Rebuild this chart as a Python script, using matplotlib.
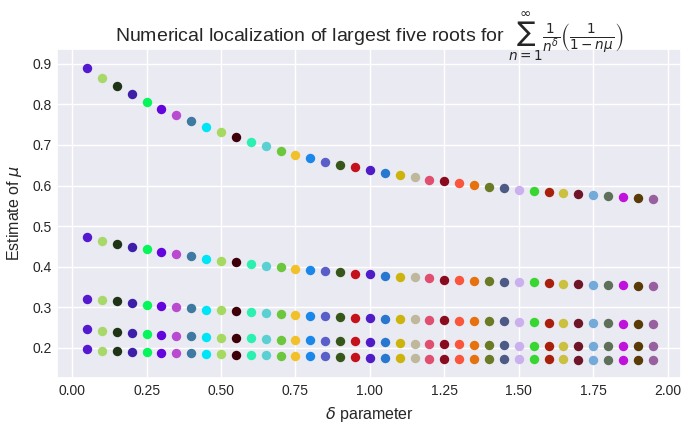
import matplotlib
matplotlib.use("Agg")
import matplotlib.pyplot as plt
import seaborn as sns
import numpy as np

sns.set_theme(style="darkgrid")
plt.rcParams['font.family'] = ['Liberation Sans', 'DejaVu Sans']
plt.rcParams['mathtext.fontset'] = 'dejavusans'

delta = [0.05, 0.10, 0.15, 0.20, 0.25, 0.30, 0.35, 0.40, 0.45, 0.50,
         0.55, 0.60, 0.65, 0.70, 0.75, 0.80, 0.85, 0.90, 0.95, 1.00,
         1.05, 1.10, 1.15, 1.20, 1.25, 1.30, 1.35, 1.40, 1.45, 1.50,
         1.55, 1.60, 1.65, 1.70, 1.75, 1.80, 1.85, 1.90, 1.95]

root1 = [0.891, 0.866, 0.846, 0.826, 0.807, 0.790, 0.774, 0.759, 0.744, 0.731,
         0.719, 0.707, 0.697, 0.686, 0.676, 0.668, 0.659, 0.651, 0.645, 0.638,
         0.631, 0.625, 0.621, 0.614, 0.610, 0.606, 0.601, 0.596, 0.593, 0.590,
         0.586, 0.583, 0.582, 0.579, 0.576, 0.574, 0.572, 0.569, 0.567]

root2 = [0.474, 0.464, 0.457, 0.449, 0.444, 0.437, 0.431, 0.426, 0.420, 0.415,
         0.411, 0.406, 0.402, 0.398, 0.395, 0.392, 0.388, 0.386, 0.383, 0.381,
         0.378, 0.375, 0.374, 0.372, 0.368, 0.367, 0.365, 0.364, 0.363, 0.361,
         0.361, 0.359, 0.358, 0.356, 0.355, 0.354, 0.354, 0.352, 0.352]

root3 = [0.321, 0.318, 0.315, 0.310, 0.306, 0.303, 0.300, 0.297, 0.294, 0.292,
         0.290, 0.287, 0.285, 0.282, 0.280, 0.279, 0.278, 0.276, 0.274, 0.274,
         0.272, 0.270, 0.270, 0.268, 0.268, 0.266, 0.266, 0.265, 0.265, 0.264,
         0.263, 0.262, 0.261, 0.261, 0.260, 0.260, 0.259, 0.259, 0.258]

root4 = [0.2456, 0.2424, 0.2399, 0.2374, 0.2342, 0.2325, 0.2300, 0.2283, 0.2268, 0.2251,
         0.2244, 0.2227, 0.2219, 0.2202, 0.2194, 0.2185, 0.2177, 0.2170, 0.2153, 0.2145,
         0.2130, 0.2110, 0.2100, 0.2090, 0.2090, 0.2080, 0.2070, 0.2060, 0.2060, 0.2054,
         0.2054, 0.2054, 0.2050, 0.2050, 0.2045, 0.2045, 0.2045, 0.2045, 0.2045]

root5 = [0.196, 0.193, 0.192, 0.190, 0.190, 0.188, 0.187, 0.186, 0.185, 0.184,
         0.182, 0.181, 0.181, 0.180, 0.180, 0.179, 0.179, 0.178, 0.177, 0.175,
         0.175, 0.175, 0.174, 0.173, 0.173, 0.173, 0.173, 0.173, 0.172, 0.172,
         0.171, 0.171, 0.171, 0.170, 0.170, 0.170, 0.170, 0.169, 0.169]

colors = ['#5519cf', '#a8d86a', '#1f3317', '#3e1fa8', '#06f55a', '#6305dc', '#b94bd0',
          '#3d79a0', '#00e5f5', '#a6d960', '#3d0008', '#2cf0b0', '#5bd0d3', '#6cc73c',
          '#f2c12a', '#1a88ea', '#5a5ec8', '#37561a', '#c4111c', '#4f1cc8', '#2878d0',
          '#cdb40c', '#c0b89c', '#e04e70', '#8a0a1e', '#f9563c', '#e6720f', '#6b7a24',
          '#4e5a86', '#cbb0ee', '#38d630', '#a8200c', '#cbc040', '#6e1628', '#74aad8',
          '#5f705a', '#c012dd', '#5a3a06', '#98609e']

fig = plt.figure(figsize=(6.81, 4.25), dpi=100)
ax = fig.add_axes([57.3 / 681, 1 - 378.3 / 425, 1 - 57.3 / 681, (378.3 - 48.5) / 425])

for i, d in enumerate(delta):
    ys = [root1[i], root2[i], root3[i], root4[i], root5[i]]
    ax.scatter([d] * 5, ys, color=colors[i], s=46, linewidths=0, zorder=3)

ax.set_xlim(-0.05, 2.045)
ax.set_ylim(0.1245, 0.938)
ax.set_xticks([0.0, 0.25, 0.5, 0.75, 1.0, 1.25, 1.5, 1.75, 2.0])
ax.set_yticks([0.2, 0.3, 0.4, 0.5, 0.6, 0.7, 0.8, 0.9])
ax.tick_params(labelsize=10, pad=4, length=0, labelcolor='#262626')
ax.set_xlabel(r'$\delta$ parameter', fontsize=11.5, labelpad=5, color='#262626')
ax.set_ylabel(r'Estimate of $\mu$', fontsize=11.5, labelpad=6, color='#262626')
ax.set_title(r'Numerical localization of largest five roots for $\sum_{n=1}^{\infty}\frac{1}{n^{\delta}}\left(\frac{1}{1-n\mu}\right)$',
             fontsize=14, pad=4.5, color='#262626')

fig.savefig('out.png', dpi=100)
